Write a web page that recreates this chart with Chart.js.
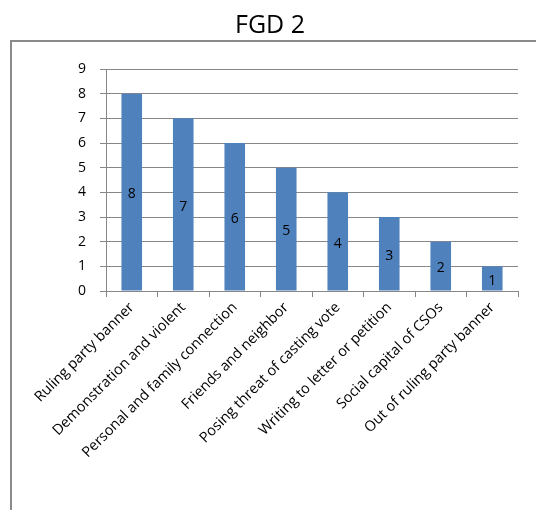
<!DOCTYPE html>
<html>
<head>
<meta charset="utf-8">
<script src="https://cdn.jsdelivr.net/npm/chart.js@4/dist/chart.umd.min.js"></script>
<style>
  html, body { margin: 0; padding: 0; background: #ffffff; }
  canvas { display: block; }
</style>
</head>
<body>
<canvas id="c" width="536" height="510"></canvas>
<script>
// Categories and counts for FGD 2
const categories = [
  'Ruling party banner',
  'Demonstration and violent',
  'Personal and family connection',
  'Friends and neighbor',
  'Posing threat of casting vote',
  'Writing to letter or petition',
  'Social capital of CSOs',
  'Out of ruling party banner'
];
const counts = [8, 7, 6, 5, 4, 3, 2, 1];
const yTicks = [0, 1, 2, 3, 4, 5, 6, 7, 8, 9];
const chartTitle = 'FGD 2';

const FONT = '"Open Sans", "Liberation Sans", sans-serif';
const GRID = '#878787';

// Outer frame and title drawn behind the chart
const framePlugin = {
  id: 'frame',
  beforeDraw(chart) {
    const ctx = chart.ctx;
    ctx.save();
    ctx.fillStyle = '#ffffff';
    ctx.fillRect(0, 0, chart.width, chart.height);
    ctx.strokeStyle = '#8a8a8a';
    ctx.lineWidth = 2;
    ctx.strokeRect(11, 41, chart.width + 20, chart.height + 20);
    ctx.fillStyle = '#000000';
    ctx.font = '25px ' + FONT;
    ctx.textAlign = 'center';
    ctx.textBaseline = 'alphabetic';
    ctx.fillText(chartTitle, 270, 33);
    ctx.restore();
  }
};

// Value labels centred inside each bar
const valueLabels = {
  id: 'valueLabels',
  afterDatasetsDraw(chart) {
    const ctx = chart.ctx;
    const meta = chart.getDatasetMeta(0);
    const y = chart.scales.y;
    ctx.save();
    ctx.fillStyle = '#000000';
    ctx.font = '14px ' + FONT;
    ctx.textAlign = 'center';
    ctx.textBaseline = 'middle';
    meta.data.forEach((bar, i) => {
      const v = counts[i];
      ctx.fillText(String(v), bar.x, y.getPixelForValue(v / 2) + 2);
    });
    ctx.restore();
  }
};

new Chart(document.getElementById('c'), {
  type: 'bar',
  data: {
    labels: categories,
    datasets: [{
      data: counts,
      backgroundColor: '#4f81bd',
      borderWidth: 0,
      barPercentage: 0.4,
      categoryPercentage: 1.0
    }]
  },
  options: {
    responsive: false,
    animation: false,
    devicePixelRatio: 1,
    layout: { padding: { left: 0, right: 18, top: 69, bottom: 0 } },
    plugins: {
      legend: { display: false },
      title: { display: false },
      tooltip: { enabled: false }
    },
    scales: {
      x: {
        grid: {
          display: true,
          drawOnChartArea: false,
          drawTicks: true,
          tickLength: 6,
          color: GRID,
          offset: true
        },
        border: { display: true, color: GRID, width: 1 },
        ticks: {
          autoSkip: false,
          minRotation: 45,
          maxRotation: 45,
          padding: 2,
          color: '#000000',
          font: { family: FONT, size: 14.5 }
        },
        afterFit(scale) { scale.height = 219; }
      },
      y: {
        min: 0,
        max: 9,
        afterBuildTicks(scale) { scale.ticks = yTicks.map(v => ({ value: v })); },
        grid: {
          color: GRID,
          lineWidth: 1,
          drawTicks: true,
          tickLength: 6
        },
        border: { display: true, color: GRID, width: 1 },
        ticks: {
          padding: 14,
          color: '#000000',
          font: { family: FONT, size: 14 }
        },
        afterFit(scale) { scale.width = 106; }
      }
    }
  },
  plugins: [framePlugin, valueLabels]
});
</script>
</body>
</html>
